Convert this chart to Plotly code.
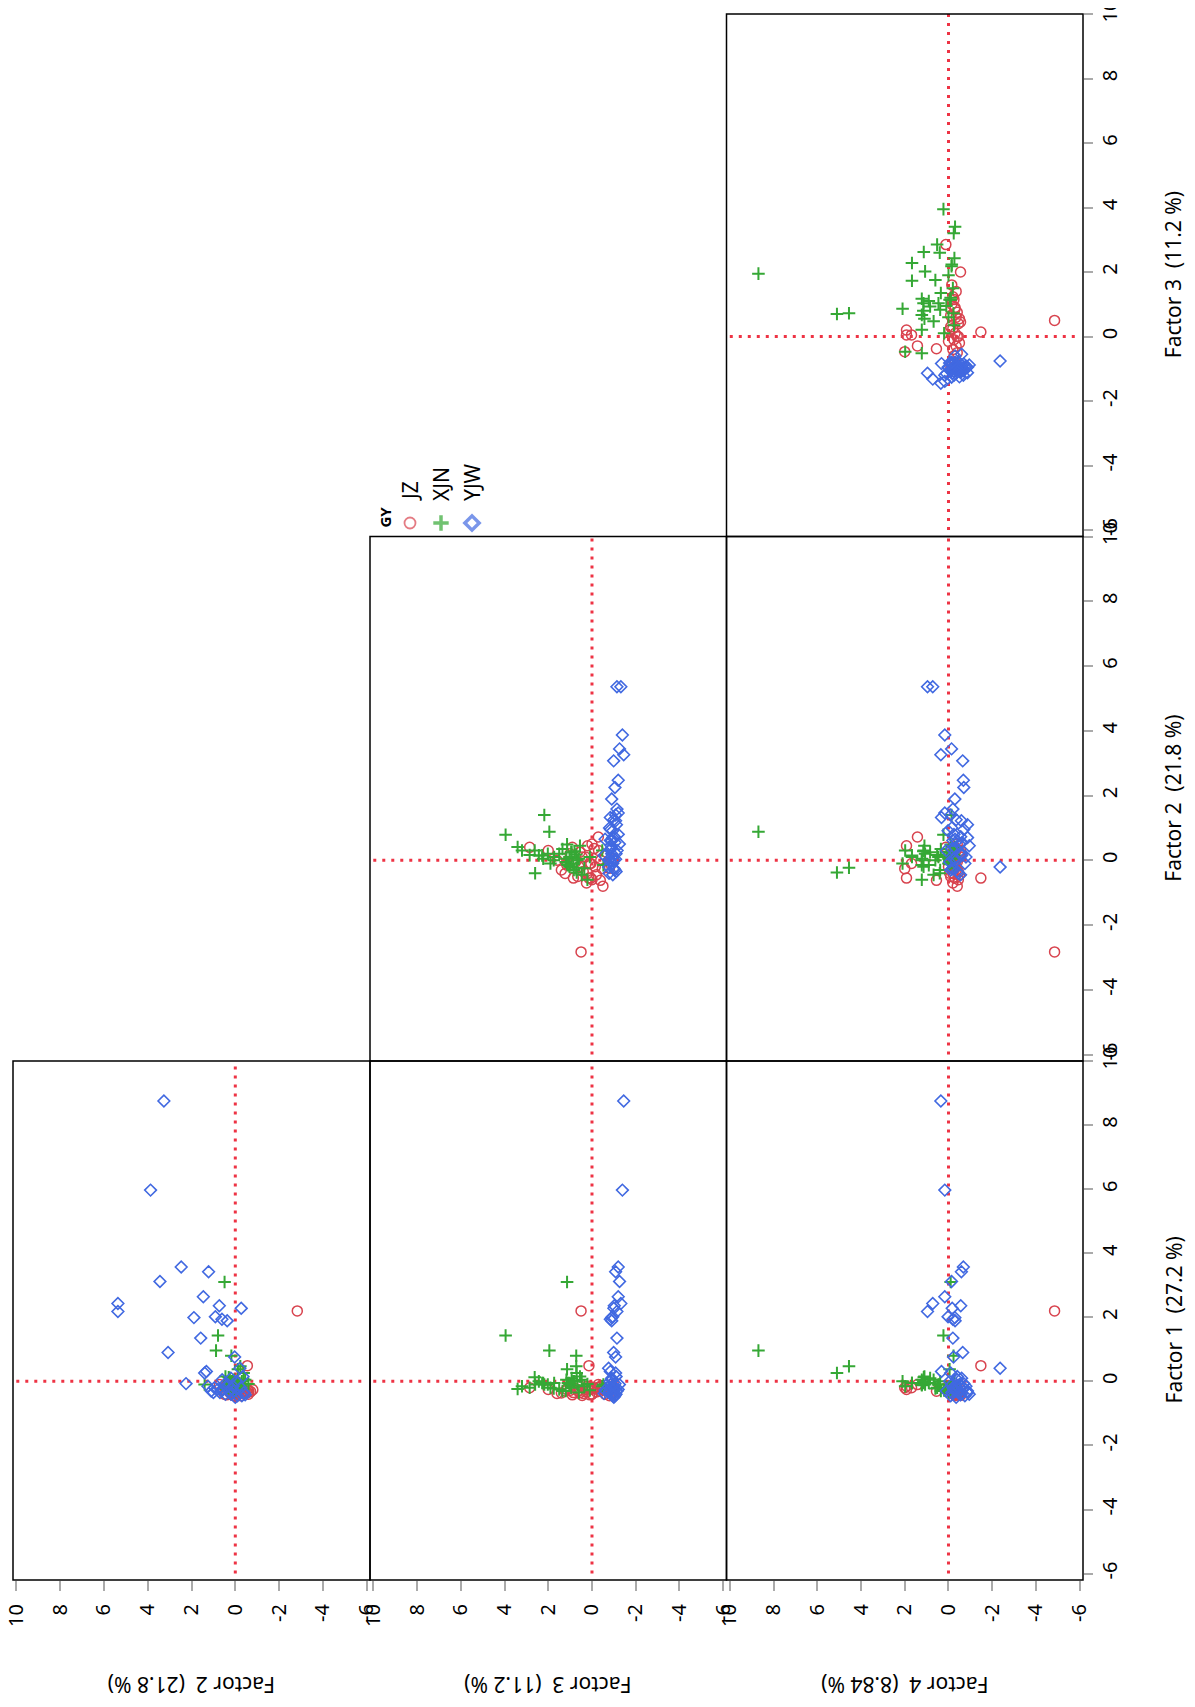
import plotly.graph_objects as go

# page is 1195x1707; the html body adds an 8px margin
OFF = 8
W, H = 1195 - 2 * OFF, 1707 - 2 * OFF

# ---------------- data: factor scores per group ----------------
JZ_F1 = [2.20, 0.49, -0.20, -0.25, -0.10, -0.15, -0.20, -0.20, -0.25, -0.31,
         -0.30, -0.35, -0.20, -0.40, -0.25, -0.30, -0.38, -0.15, -0.42, -0.33,
         -0.28, -0.36, -0.22, -0.40, -0.45, -0.30, -0.20, -0.35, -0.25, -0.40,
         -0.18, -0.32, -0.42, -0.26, -0.38, -0.24, -0.44, -0.30]
JZ_F2 = [-2.83, -0.55, 0.40, 0.30, 0.72, 0.45, -0.10, -0.26, -0.55, -0.62,
         -0.41, -0.55, 0.36, 0.50, 0.10, -0.20, -0.35, 0.00, -0.10, -0.45,
         0.20, -0.30, -0.05, 0.15, -0.25, 0.05, -0.40, 0.25, -0.15, -0.60,
         0.30, -0.70, 0.40, -0.80, 0.00, -0.20, 0.10, -0.50]
JZ_F3 = [0.50, 0.14, 2.85, 2.00, -0.29, 0.20, 0.05, -0.47, 0.05, -0.38,
         1.23, 0.85, -0.10, 0.00, 0.30, 0.60, 0.40, -0.40, 0.10, -0.20,
         1.00, 1.40, 0.75, -0.60, -0.80, -1.00, 0.20, 0.55, 1.15, 0.00,
         -0.30, 0.25, 0.90, -0.50, 1.60, -0.15, 0.45, 0.65]
JZ_F4 = [-4.85, -1.48, 0.12, -0.55, 1.42, 1.92, 1.69, 2.00, 1.92, 0.55,
         -0.20, -0.30, -0.25, -0.40, -0.10, -0.35, -0.45, -0.20, -0.30, -0.50,
         -0.15, -0.35, -0.40, -0.25, -0.30, -0.10, -0.05, -0.50, -0.25, -0.45,
         -0.35, -0.20, -0.30, -0.40, -0.15, 0.00, -0.55, -0.10]

XJN_F1 = [3.10, 1.43, 0.96, 0.80, 0.26, 0.47, 0.38, -0.10, -0.24, -0.20,
          0.13, -0.10, -0.05, -0.15, 0.00, 0.05, -0.05, 0.10, -0.10, 0.00,
          -0.12, 0.05, -0.08, -0.15, -0.10, 0.00, -0.05, -0.20, -0.25, -0.30,
          -0.20, -0.35, -0.15, -0.28, -0.10, -0.22, -0.30, 0.15, 0.00, -0.05,
          -0.05]
XJN_F2 = [0.49, 0.79, 0.88, 0.18, -0.38, -0.23, -0.12, 1.40, 0.41, 0.16,
          0.30, 0.20, 0.10, 0.30, -0.10, 0.05, -0.20, 0.25, 0.10, -0.30,
          0.00, -0.45, -0.60, 0.30, -0.15, 0.15, 0.05, -0.10, 0.20, -0.05,
          0.25, 0.05, -0.25, 0.10, -0.40, 0.00, 0.35, 0.45, 0.28, 0.15,
          -0.15]
XJN_F3 = [1.14, 3.95, 1.95, 0.72, 0.70, 0.72, 1.14, 2.18, 3.40, 2.85,
          2.62, 2.02, 1.73, 3.20, 0.86, 1.17, 1.03, 0.93, 1.03, 0.83,
          0.67, 0.47, 0.21, -0.47, -0.52, 2.43, 2.23, 1.90, 1.50, 1.20,
          0.95, 0.60, 0.35, 0.10, 2.60, 1.75, 1.35, 0.55, 0.80, 2.28,
          1.10]
XJN_F4 = [-0.10, 0.23, 8.69, -0.23, 5.10, 4.55, -0.05, -0.14, -0.30, 0.52,
          1.13, 1.07, 1.67, -0.24, 2.10, 1.22, 1.14, 0.84, 0.46, 0.38,
          1.22, 0.68, 1.22, 1.98, 1.22, -0.27, -0.15, 0.00, -0.20, -0.10,
          0.10, 0.00, -0.25, 0.20, 0.40, 0.60, 0.35, 1.10, 1.15, 1.67,
          0.90]

YJW_F1 = [8.75, 5.97, 3.57, 3.42, 3.12, 2.43, 2.18, 2.64, 2.36, 2.28,
          1.99, 2.02, 1.94, 1.89, 1.35, 0.90, 0.76, -0.07, 0.31, 0.41,
          0.26, -0.15, -0.30, -0.35, -0.25, 0.05, -0.10, -0.40, -0.30, -0.45,
          -0.20, -0.35, -0.45, 0.10, -0.25, -0.40, 0.00, -0.15, -0.50, -0.30,
          -0.20, -0.42, 0.15, -0.35, -0.10, -0.28, -0.38]
YJW_F2 = [3.26, 3.87, 2.47, 1.22, 3.44, 5.36, 5.36, 1.46, 0.73, -0.27,
          1.89, 0.91, 0.61, 0.37, 1.58, 3.07, 0.03, 2.25, 1.32, -0.21,
          1.40, 1.25, 1.10, 0.70, 0.55, 0.60, 0.35, 0.20, 0.05, -0.10,
          -0.25, -0.40, -0.30, 0.20, 0.80, 0.45, -0.05, 0.10, 0.00, 0.30,
          0.95, -0.45, -0.35, 1.00, 0.50, 0.65, 0.15]
YJW_F3 = [-1.45, -1.39, -1.20, -1.08, -1.26, -1.32, -1.14, -1.20, -1.02, -1.00,
          -0.90, -0.95, -0.84, -0.90, -1.14, -0.99, -1.08, -1.05, -0.84, -0.76,
          -1.08, -1.00, -1.12, -0.95, -1.05, -0.90, -0.85, -1.10, -0.80, -0.95,
          -1.00, -0.78, -1.05, -0.90, -1.20, -0.88, -0.82, -0.92, -1.00, -1.15,
          -0.85, -0.95, -1.10, -0.80, -1.25, -0.60, -0.55]
YJW_F4 = [0.35, 0.17, -0.68, -0.59, -0.14, 0.72, 0.96, 0.17, -0.56, -0.17,
          -0.29, 0.02, -0.20, -0.30, -0.20, -0.65, -0.23, -0.70, 0.32, -2.36,
          -0.10, -0.35, -0.87, -0.87, -0.62, -0.40, -0.15, -0.55, -0.30, -0.75,
          -0.20, -0.45, -0.10, -0.60, -0.25, -0.95, -0.05, -0.80, -0.35, 0.10,
          -0.70, -0.55, -0.40, -0.15, -0.50, -0.30, -0.60]

GROUPS = ["JZ", "XJN", "YJW"]
FACTOR_LABELS = ["Factor 1  (27.2 %)", "Factor 2  (21.8 %)",
                 "Factor 3  (11.2 %)", "Factor 4  (8.84 %)"]
TICKS = [-6, -4, -2, 0, 2, 4, 6, 8, 10]
LEGEND_TITLE = "GY"

DATA = {
    "JZ": [JZ_F1, JZ_F2, JZ_F3, JZ_F4],
    "XJN": [XJN_F1, XJN_F2, XJN_F3, XJN_F4],
    "YJW": [YJW_F1, YJW_F2, YJW_F3, YJW_F4],
}

# ---------------- styling ----------------
FONT = "Noto Sans"
COLORS = {"JZ": "#D8434E", "XJN": "#35A835", "YJW": "#4169E1"}
SYMBOLS = {"JZ": "circle-open", "XJN": "cross-thin-open", "YJW": "diamond-open"}
SIZES = {"JZ": 10, "XJN": 9, "YJW": 9}
LW = {"JZ": 1.5, "XJN": 2, "YJW": 1.6}
REF_COLOR = "#EE3344"


def px_x(p):
    return (p - OFF) / W


def px_y(p):
    return 1 - (p - OFF) / H


# panel geometry in page pixels (rotated scatter matrix)
COLS_PX = [(13, 370), (370, 726.5), (726.5, 1083)]
ROWS_PX = [(14, 536.5), (536.5, 1061), (1061, 1580)]
HRANGE = [10.15, -6.15]
VRANGE = [-6.2, 10.0]

# (row, col, horizontal factor index, vertical factor index)
PANELS = [
    (2, 0, 1, 0),
    (2, 1, 2, 0),
    (2, 2, 3, 0),
    (1, 1, 2, 1),
    (1, 2, 3, 1),
    (0, 2, 3, 2),
]

fig = go.Figure()
layout = dict(
    width=W, height=H,
    margin=dict(l=0, r=0, t=0, b=0),
    paper_bgcolor="white", plot_bgcolor="rgba(0,0,0,0)",
    showlegend=False,
    font=dict(family=FONT, color="black"),
)
shapes = []
annotations = []
TICKFONT = dict(size=20, family=FONT, color="black")

for k, (row, col, hf, vf) in enumerate(PANELS, start=1):
    xa = "xaxis" if k == 1 else f"xaxis{k}"
    ya = "yaxis" if k == 1 else f"yaxis{k}"
    xr = "x" if k == 1 else f"x{k}"
    yr = "y" if k == 1 else f"y{k}"
    l, r = COLS_PX[col]
    t, b = ROWS_PX[row]
    bottom = row == 2
    right = col == 2
    layout[xa] = dict(
        domain=[px_x(l), px_x(r)], range=HRANGE, anchor=yr,
        showline=False, showgrid=False, zeroline=False,
        tickmode="array", tickvals=TICKS, ticktext=[str(v) for v in TICKS],
        ticks="outside" if bottom else "", ticklen=10, tickwidth=1.5,
        tickcolor="#aaaaaa", showticklabels=bottom, tickangle=-90,
        ticklabelstandoff=5, ticklabeloverflow="allow",
        tickfont=TICKFONT, automargin=False,
    )
    layout[ya] = dict(
        domain=[px_y(b), px_y(t)], range=VRANGE, anchor=xr, side="right",
        showline=False, showgrid=False, zeroline=False,
        tickmode="array", tickvals=TICKS, ticktext=[str(v) for v in TICKS],
        ticks="outside" if right else "", ticklen=9, tickwidth=1.5,
        tickcolor="#aaaaaa", showticklabels=right, tickangle=-90,
        ticklabeloverflow="allow",
        tickfont=TICKFONT, automargin=False,
    )
    # reference lines at 0
    shapes.append(dict(type="line", xref=xr, yref=yr, x0=0, x1=0, y0=-6, y1=10,
                       line=dict(color=REF_COLOR, width=3, dash="3px,6px"), layer="below"))
    shapes.append(dict(type="line", xref=xr, yref=yr, x0=10, x1=-6, y0=0, y1=0,
                       line=dict(color=REF_COLOR, width=3, dash="3px,6px"), layer="below"))
    # panel frame
    shapes.append(dict(type="rect", xref=f"{xr} domain", yref=f"{yr} domain",
                       x0=0, x1=1, y0=0, y1=1,
                       line=dict(color="black", width=1.5), layer="above"))
    for g in GROUPS:
        fig.add_trace(go.Scatter(
            x=DATA[g][hf], y=DATA[g][vf], mode="markers", name=g,
            xaxis=xr, yaxis=yr,
            marker=dict(symbol=SYMBOLS[g], size=SIZES[g], color=COLORS[g],
                        line=dict(width=LW[g], color=COLORS[g])),
        ))

# axis titles
for col in range(3):
    l, r = COLS_PX[col]
    annotations.append(dict(
        xref="paper", yref="paper", x=px_x((l + r) / 2), y=px_y(1685),
        text=FACTOR_LABELS[col + 1], textangle=180, showarrow=False,
        xanchor="center", yanchor="middle", font=dict(size=21, family=FONT)))
for row in range(3):
    t, b = ROWS_PX[row]
    annotations.append(dict(
        xref="paper", yref="paper", x=px_x(1173), y=px_y((t + b) / 2),
        text=FACTOR_LABELS[2 - row], textangle=-90, showarrow=False,
        xanchor="center", yanchor="middle", font=dict(size=21, family=FONT)))

# legend (rotated)
annotations.append(dict(
    xref="paper", yref="paper", x=px_x(385), y=px_y(530),
    text="<b>" + LEGEND_TITLE + "</b>", textangle=-90, showarrow=False,
    xanchor="center", yanchor="bottom", font=dict(size=15, family=FONT)))
LEG_X = [410, 441, 472]
for gx, g in zip(LEG_X, GROUPS):
    annotations.append(dict(
        xref="paper", yref="paper", x=px_x(gx), y=px_y(503),
        text=g, textangle=-90, showarrow=False,
        xanchor="center", yanchor="bottom", font=dict(size=21, family=FONT)))

fig.add_trace(go.Scatter(
    x=LEG_X, y=[523, 523, 523], mode="markers", xaxis="x7", yaxis="y7",
    marker=dict(symbol=[SYMBOLS[g] for g in GROUPS], size=[11, 11, 11],
                color=[COLORS[g] for g in GROUPS],
                line=dict(width=[1.8, 3.5, 3.5], color=[COLORS[g] for g in GROUPS])),
    hoverinfo="skip"))
layout["xaxis7"] = dict(domain=[0, 1], range=[OFF, OFF + W], visible=False, anchor="y7")
layout["yaxis7"] = dict(domain=[0, 1], range=[OFF + H, OFF], visible=False, anchor="x7")

layout["shapes"] = shapes
layout["annotations"] = annotations
fig.update_layout(**layout)
fig.write_html("out.html")
